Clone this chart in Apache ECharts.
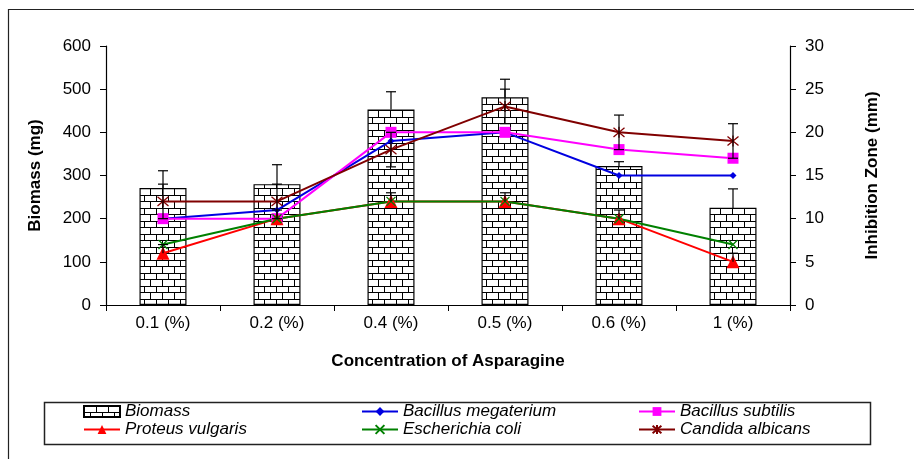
<!DOCTYPE html>
<html>
<head>
<meta charset="utf-8">
<script src="https://cdn.jsdelivr.net/npm/echarts@6/dist/echarts.min.js"></script>
<style>
html,body{margin:0;padding:0;background:#fff;}
#chart{width:914px;height:459px;}
</style>
</head>
<body>
<div id="chart"></div>
<script>
const categories = ['0.1 (%)', '0.2 (%)', '0.4 (%)', '0.5 (%)', '0.6 (%)', '1 (%)'];
const biomass = [271, 280, 453, 481, 322, 225];
const biomassErr = [40, 45, 41, 42, 10, 44];
const bMegaterium = [10, 11, 19, 20, 15, 15];
const bSubtilis = [10, 10, 20, 20, 18, 17];
const pVulgaris = [6, 10, 12, 12, 10, 5];
const eColi = [7, 10, 12, 12, 10, 7];
const cAlbicans = [12, 12, 18, 23, 20, 19];
const cAlbicansErr = [2, 2, 2, 2, 2, 2];
const pVulgarisErr = [1, 1, 1, 1, 1, 1];
const leftTicks = [0, 600, 100];
const rightTicks = [0, 30, 5];

const FONT = "'Liberation Sans', Arial, sans-serif";

// brick pattern
const pc = document.createElement('canvas');
pc.width = 12; pc.height = 13;
const ctx = pc.getContext('2d');
ctx.fillStyle = '#fff'; ctx.fillRect(0, 0, 12, 13);
ctx.strokeStyle = '#000'; ctx.lineWidth = 1;
ctx.beginPath();
ctx.moveTo(0, 0.5); ctx.lineTo(12, 0.5);
ctx.moveTo(0, 6.5); ctx.lineTo(12, 6.5);
ctx.moveTo(0.5, 0); ctx.lineTo(0.5, 6.5);
ctx.moveTo(6.5, 6.5); ctx.lineTo(6.5, 13);
ctx.stroke();

function errRender(params, api) {
  const i = api.value(0), v = api.value(1), e = api.value(2), both = api.value(3);
  const top = api.coord([i, v + e]);
  const bot = api.coord([i, both ? v - e : v]);
  const cw = 5;
  const children = [
    {type: 'line', shape: {x1: top[0], y1: top[1], x2: bot[0], y2: bot[1]}, style: {stroke: '#000', lineWidth: 1.2}},
    {type: 'line', shape: {x1: top[0] - cw, y1: top[1], x2: top[0] + cw, y2: top[1]}, style: {stroke: '#000', lineWidth: 1.2}}
  ];
  if (both) children.push({type: 'line', shape: {x1: bot[0] - cw, y1: bot[1], x2: bot[0] + cw, y2: bot[1]}, style: {stroke: '#000', lineWidth: 1.2}});
  return {type: 'group', children};
}

const chart = echarts.init(document.getElementById('chart'));
const legendCommon = {
  orient: 'vertical', top: 403, itemGap: 1, itemWidth: 36, itemHeight: 11,
  padding: 0, selectedMode: false,
  textStyle: {fontFamily: FONT, fontSize: 17, fontStyle: 'italic', color: '#000', padding: [0, 0, 0, 0], lineHeight: 17}
};
function lineSeries(name, data, color, symbol, size, extra) {
  return Object.assign({
    name, type: 'line', yAxisIndex: 1, data,
    symbol, symbolSize: size,
    lineStyle: {color, width: 2},
    itemStyle: {color},
    z: 3
  }, extra || {});
}
chart.setOption({
  animation: false,
  grid: {left: 106, right: 124, top: 46, bottom: 154},
  graphic: [
    {type: 'rect', shape: {x: 8.5, y: 9.5, width: 1000, height: 1000}, style: {fill: 'none', stroke: '#222', lineWidth: 1.2}, silent: true},
    {type: 'rect', shape: {x: 44.5, y: 402.5, width: 826, height: 42}, style: {fill: 'none', stroke: '#222', lineWidth: 1.5}, silent: true}
  ],
  legend: [
    Object.assign({left: 83, data: [{name: 'Biomass', icon: 'rect'}, 'Proteus vulgaris']}, legendCommon),
    Object.assign({left: 361, data: ['Bacillus megaterium', 'Escherichia coli']}, legendCommon),
    Object.assign({left: 638, data: ['Bacillus subtilis', 'Candida albicans']}, legendCommon)
  ],
  xAxis: {
    type: 'category', data: categories,
    name: 'Concentration of Asparagine', nameLocation: 'middle', nameGap: 48,
    nameTextStyle: {fontFamily: FONT, fontSize: 17, fontWeight: 'bold', color: '#000'},
    axisLine: {lineStyle: {color: '#000', width: 1.2}},
    axisTick: {show: true, length: 6, lineStyle: {color: '#000'}},
    axisLabel: {fontFamily: FONT, fontSize: 17, color: '#000', margin: 10}
  },
  yAxis: [
    {
      type: 'value', min: leftTicks[0], max: leftTicks[1], interval: leftTicks[2],
      name: 'Biomass (mg)', nameLocation: 'middle', nameGap: 62,
      nameTextStyle: {fontFamily: FONT, fontSize: 17, fontWeight: 'bold', color: '#000'},
      axisLine: {show: true, lineStyle: {color: '#000', width: 1.2}},
      axisTick: {show: true, length: 6, lineStyle: {color: '#000'}},
      axisLabel: {fontFamily: FONT, fontSize: 17, color: '#000', margin: 15},
      splitLine: {show: false}
    },
    {
      type: 'value', min: rightTicks[0], max: rightTicks[1], interval: rightTicks[2],
      name: 'Inhibition Zone (mm)', nameLocation: 'middle', nameGap: 74,
      nameTextStyle: {fontFamily: FONT, fontSize: 17, fontWeight: 'bold', color: '#000'},
      axisLine: {show: true, lineStyle: {color: '#000', width: 1.2}},
      axisTick: {show: true, length: 6, lineStyle: {color: '#000'}},
      axisLabel: {fontFamily: FONT, fontSize: 17, color: '#000', margin: 15},
      splitLine: {show: false}
    }
  ],
  series: [
    {
      name: 'Biomass', type: 'bar', data: biomass, barWidth: 47,
      itemStyle: {color: {image: pc, repeat: 'repeat'}, borderColor: '#000', borderWidth: 1.2},
      z: 1
    },
    lineSeries('Bacillus megaterium', bMegaterium, '#0000e0', 'diamond', 7),
    lineSeries('Bacillus subtilis', bSubtilis, '#ff00ff', 'rect', 11),
    lineSeries('Proteus vulgaris', pVulgaris, '#ff0000', 'triangle', 13),
    lineSeries('Escherichia coli', eColi, '#008000', 'path://M0,0L10,10M10,0L0,10', 9,
      {itemStyle: {color: 'rgba(0,0,0,0)', borderColor: '#008000', borderWidth: 1.3}}),
    lineSeries('Candida albicans', cAlbicans, '#800000', 'path://M0,0L10,10M10,0L0,10M5,-1L5,11', 11,
      {itemStyle: {color: 'rgba(0,0,0,0)', borderColor: '#800000', borderWidth: 1.3}}),
    {
      name: 'errBiomass', type: 'custom', yAxisIndex: 0, renderItem: errRender, z: 2,
      encode: {x: 0, y: 1},
      data: categories.map((c, i) => [i, biomass[i], biomassErr[i], 0])
    },
    {
      name: 'errCandida', type: 'custom', yAxisIndex: 1, renderItem: errRender, z: 4,
      encode: {x: 0, y: 1},
      data: categories.map((c, i) => [i, cAlbicans[i], cAlbicansErr[i], 1])
    },
    {
      name: 'errProteus', type: 'custom', yAxisIndex: 1, renderItem: errRender, z: 4,
      encode: {x: 0, y: 1},
      data: categories.map((c, i) => [i, pVulgaris[i], pVulgarisErr[i], 0])
    }
  ]
});
</script>
</body>
</html>
